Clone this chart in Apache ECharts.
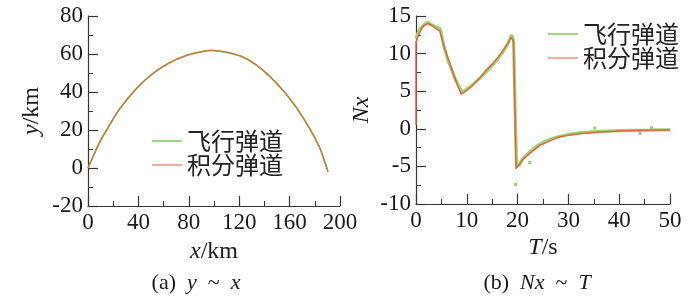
<!DOCTYPE html>
<html>
<head>
<meta charset="utf-8">
<script src="https://cdn.jsdelivr.net/npm/echarts@6/dist/echarts.min.js"></script>
<style>
  html, body { margin: 0; padding: 0; background: #fff; }
  #chart { width: 700px; height: 304px; }
</style>
</head>
<body>
<div id="chart"></div>
<script>
// (a) trajectory y ~ x, km
const trajX = [0, 5, 10, 17, 25, 38, 51, 64.5, 78, 91, 97.5, 109.5, 123, 136, 149, 162.5, 175.5, 183.5, 187, 190.5];
const trajY = [0, 7.5, 14.5, 22.5, 31, 41.5, 49.5, 55.3, 59.2, 61.3, 61.9, 61, 58.4, 53, 45, 34.5, 21.2, 11.3, 5, -2];

// (b) Nx ~ T, flight (measured) overload
const flightT = [0, 0.3, 0.8, 1.3, 1.8, 2.3, 2.8, 3.3, 3.8, 4.3, 4.8, 5.5, 6.2, 7, 7.8, 8.6, 9.2, 10, 11, 12, 13, 14, 15, 16, 17, 18, 18.8, 19.2, 19.5, 19.8, 20.3, 21, 22, 23, 24, 25, 26.5, 28, 30, 32, 34, 36, 38, 40, 42, 44, 46, 48, 50];
const flightNx = [12.0, 12.6, 13.3, 13.6, 14.0, 14.2, 13.9, 13.8, 13.6, 13.5, 13.3, 11.0, 9.3, 7.9, 6.5, 5.4, 4.9, 5.3, 5.8, 6.4, 7.0, 7.7, 8.4, 9.2, 10.1, 11.2, 12.5, 11.8, 3, -5, -4.8, -4.0, -3.3, -2.7, -2.2, -1.8, -1.35, -1.05, -0.75, -0.55, -0.45, -0.35, -0.3, -0.25, -0.2, -0.2, -0.18, -0.15, -0.15];
// stray flight samples
const strayT = [19.6, 22.4, 35.2, 44.1, 46.4];
const strayNx = [-7.4, -4.5, 0.1, -0.6, 0.15];

// (b) integrated overload
const integT = [0, 0, 0.5, 1, 1.5, 2.4, 3.2, 4.7, 5.5, 6.5, 7.5, 8.9, 10, 11, 12.5, 13.8, 15, 16, 17, 18, 18.8, 19.2, 19.7, 20.5, 21, 22.5, 24.4, 27, 28.3, 30, 32, 34.8, 38, 41.3, 45, 50];
const integNx = [0.5, 11.5, 12.4, 13.2, 13.7, 14.0, 13.7, 13.0, 11.0, 9.0, 7.0, 4.6, 5.1, 5.7, 6.7, 7.8, 8.6, 9.4, 10.3, 11.3, 12.2, 11.5, -5.3, -4.6, -4.1, -3.2, -2.2, -1.4, -1.05, -0.85, -0.65, -0.5, -0.35, -0.25, -0.2, -0.16];

const legendNames = ['飞行弹道', '积分弹道'];

const zip = (a, b) => a.map((v, i) => [v, b[i]]);

const serif = 'Liberation Serif';
const cjk = 'Noto Sans CJK SC';
const axisColor = '#3b3430';
const green = '#72c84a';
const red = '#e9623f';

function valueAxis(gridIndex, min, max, interval, extra) {
  return Object.assign({
    type: 'value',
    gridIndex: gridIndex,
    min: min,
    max: max,
    interval: interval,
    splitLine: { show: false },
    axisLine: { show: true, lineStyle: { color: axisColor, width: 1.2 } },
    axisTick: { show: true, inside: true, length: 10, lineStyle: { color: axisColor, width: 1.2 } },
    minorTick: { show: true, splitNumber: 2, length: 5 },
    axisLabel: { color: '#1a1a1a', fontFamily: serif, fontSize: 23, margin: 5 },
  }, extra);
}

const rich = (size) => ({
  i: { fontFamily: serif, fontSize: size, fontStyle: 'italic', fill: '#1a1a1a', color: '#1a1a1a' },
  n: { fontFamily: serif, fontSize: size, fill: '#1a1a1a', color: '#1a1a1a' },
});

// axis titles and captions, placed as text
function label(text, x, y, size, rotation) {
  return {
    type: 'text', x: x, y: y, rotation: rotation || 0,
    style: {
      text: text, fontFamily: serif, fontSize: size, fill: '#1a1a1a',
      align: 'center', verticalAlign: 'middle', rich: rich(size),
    },
  };
}

const legendStyle = { color: '#222', fontFamily: cjk, fontSize: 24, lineHeight: 24 };

// x axes sit on the bottom edge, not on y = 0
const bottomLine = { show: true, onZero: false, lineStyle: { color: axisColor, width: 1.2 } };

const chart = echarts.init(document.getElementById('chart'));

chart.setOption({
  animation: false,
  grid: [
    { left: 88, top: 16, width: 252, height: 190 },
    { left: 416, top: 16, width: 254, height: 188 },
  ],
  xAxis: [
    valueAxis(0, 0, 200, 40, { axisLine: bottomLine }),
    valueAxis(1, 0, 50, 10, { axisLine: bottomLine }),
  ],
  yAxis: [
    valueAxis(0, -20, 80, 20, {}),
    valueAxis(1, -10, 15, 5, {}),
  ],
  graphic: [
    label('{i|x}{n|/km}', 214, 252, 24),
    label('{i|y}{n|/km}', 32, 111, 24, Math.PI / 2),
    label('{i|T}{n|/s}', 543, 248, 24),
    label('{i|Nx}', 362, 110, 24, Math.PI / 2),
    label('{n|(a)  }{i|y}{n|  ~  }{i|x}', 196, 283, 22),
    label('{n|(b)  }{i|Nx}{n|  ~  }{i|T}', 537, 283, 22),
  ],
  legend: [
    {
      data: legendNames, orient: 'vertical', left: 147, top: 124,
      itemWidth: 30, itemHeight: 14, itemGap: 0, itemTextGap: 7,
      textStyle: legendStyle, icon: 'path://M0,7L30,7L30,8.4L0,8.4Z',
    },
    {
      data: legendNames, orient: 'vertical', left: 543, top: 17,
      itemWidth: 30, itemHeight: 14, itemGap: 0, itemTextGap: 7,
      textStyle: legendStyle, icon: 'path://M0,7L30,7L30,8.4L0,8.4Z',
    },
  ],
  series: [
    {
      name: '飞行弹道', type: 'line', xAxisIndex: 0, yAxisIndex: 0,
      data: zip(trajX, trajY), symbol: 'none', smooth: 0.3,
      itemStyle: { color: green }, lineStyle: { color: green, width: 1.6 },
    },
    {
      name: '积分弹道', type: 'line', xAxisIndex: 0, yAxisIndex: 0,
      data: zip(trajX, trajY), symbol: 'none', smooth: 0.3,
      itemStyle: { color: '#f08a66' }, lineStyle: { color: '#d0773f', width: 1.4 },
    },
    {
      name: '飞行弹道', type: 'line', xAxisIndex: 1, yAxisIndex: 1,
      data: zip(flightT, flightNx), symbol: 'none',
      itemStyle: { color: green }, lineStyle: { color: '#9bd673', width: 3.2 },
    },
    {
      name: '飞行样点', type: 'scatter', xAxisIndex: 1, yAxisIndex: 1,
      data: zip(strayT, strayNx), symbol: 'rect', symbolSize: 3,
      itemStyle: { color: '#7cc452' },
    },
    {
      name: '积分弹道', type: 'line', xAxisIndex: 1, yAxisIndex: 1,
      data: zip(integT, integNx), symbol: 'none',
      itemStyle: { color: '#f08a66' }, lineStyle: { color: red, width: 1.5 },
    },
  ],
});
</script>
</body>
</html>
